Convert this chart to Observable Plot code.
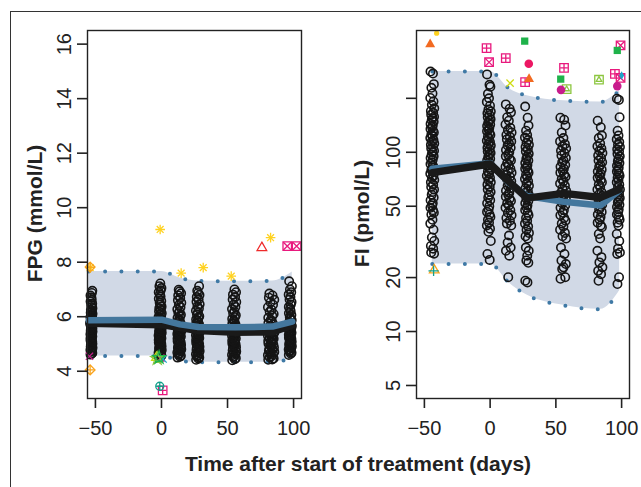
<!DOCTYPE html>
<html><head><meta charset="utf-8">
<script src="https://cdn.jsdelivr.net/npm/d3@7"></script>
<script src="https://cdn.jsdelivr.net/npm/@observablehq/plot@0.6"></script>
<style>
html,body{margin:0;padding:0;background:#fff;overflow:hidden}
#fig{position:relative;width:641px;height:487px;overflow:hidden;font-family:"Liberation Sans",Arial,Helvetica,sans-serif}
#frame{position:absolute;left:10px;top:11px;width:700px;height:600px;border-left:1.5px solid #333;border-top:1.5px solid #333}
#left,#right{position:absolute;top:0}
#left{left:0}#right{left:320px}
#titles{position:absolute;left:0;top:0;pointer-events:none}
</style></head><body>
<div id="fig"><div id="frame"></div><div id="left"></div><div id="right"></div>
<svg id="titles" width="641" height="487"></svg></div>
<script>
// ---------- tick labels ----------
const xTicks = [-50, 0, 50, 100];
const fpgTicks = [4, 6, 8, 10, 12, 14, 16];
const fiTicks = [5, 10, 20, 50, 100, 200];
const fiTickLabels = ["5", "10", "20", "50", "100", ""];

// ---------- FPG (mmol/L) individual values per visit ----------
const fpgDays = [-53, -1, 13.5, 27.5, 55, 83, 97.5];
const fpgV1 = [4.61,4.65,4.67,4.72,4.74,4.78,4.8,4.84,4.86,4.9,4.94,4.96,5.01,5.03,5.07,5.09,5.13,5.15,5.19,5.21,5.25,5.27,5.31,5.33,5.36,5.4,5.42,5.46,5.48,5.52,5.54,5.58,5.6,5.64,5.66,5.7,5.74,5.76,5.81,5.83,5.88,5.9,5.95,5.98,6.03,6.06,6.11,6.15,6.21,6.25,6.31,6.36,6.43,6.48,6.56,6.62,6.71,6.78,6.87,6.95];
const fpgV2 = [4.5,4.54,4.57,4.61,4.64,4.68,4.71,4.75,4.78,4.82,4.85,4.88,4.92,4.95,4.98,5.02,5.05,5.08,5.11,5.15,5.18,5.21,5.24,5.28,5.31,5.34,5.37,5.41,5.44,5.47,5.5,5.54,5.57,5.6,5.64,5.67,5.71,5.74,5.78,5.82,5.86,5.9,5.94,5.99,6.03,6.08,6.13,6.19,6.25,6.31,6.37,6.44,6.51,6.58,6.66,6.74,6.82,6.9,6.97,7.05,7.12,7.22];
const fpgV3 = [4.5,4.53,4.57,4.61,4.65,4.69,4.73,4.77,4.81,4.85,4.88,4.92,4.96,4.99,5.03,5.06,5.1,5.13,5.17,5.2,5.24,5.27,5.3,5.34,5.37,5.41,5.44,5.48,5.51,5.55,5.59,5.63,5.67,5.71,5.75,5.8,5.85,5.9,5.95,6.01,6.07,6.13,6.2,6.27,6.35,6.43,6.51,6.6,6.69,6.78,6.86,6.93,6.99];
const fpgV4 = [4.42,4.46,4.5,4.54,4.58,4.62,4.66,4.7,4.74,4.78,4.82,4.86,4.9,4.93,4.97,5.01,5.04,5.08,5.11,5.15,5.18,5.22,5.25,5.29,5.32,5.36,5.39,5.43,5.46,5.5,5.54,5.58,5.62,5.66,5.71,5.75,5.8,5.85,5.9,5.96,6.02,6.08,6.15,6.22,6.3,6.38,6.46,6.55,6.63,6.72,6.8,6.87,6.95,7.12];
const fpgV5 = [4.4,4.44,4.48,4.52,4.56,4.6,4.64,4.68,4.72,4.76,4.8,4.84,4.88,4.91,4.95,4.99,5.02,5.06,5.09,5.13,5.16,5.2,5.23,5.27,5.3,5.34,5.37,5.41,5.45,5.49,5.53,5.57,5.61,5.65,5.7,5.75,5.8,5.86,5.92,5.98,6.05,6.12,6.2,6.28,6.36,6.45,6.54,6.63,6.72,6.81,6.9,7.0];
const fpgV6 = [4.42,4.43,4.47,4.51,4.55,4.59,4.63,4.67,4.71,4.75,4.79,4.83,4.87,4.91,4.94,4.98,5.02,5.05,5.09,5.12,5.16,5.19,5.23,5.26,5.3,5.33,5.37,5.41,5.45,5.49,5.53,5.57,5.62,5.67,5.72,5.77,5.83,5.89,5.96,6.03,6.1,6.18,6.26,6.35,6.44,6.53,6.62,6.7,6.78,6.85];
const fpgV7 = [4.6,4.64,4.68,4.72,4.76,4.8,4.84,4.88,4.92,4.96,5.0,5.04,5.08,5.12,5.15,5.19,5.23,5.26,5.3,5.34,5.37,5.41,5.45,5.49,5.53,5.57,5.61,5.66,5.71,5.76,5.81,5.87,5.93,5.99,6.06,6.13,6.2,6.28,6.36,6.45,6.54,6.63,6.72,6.81,6.9,7.0,7.12,7.3];

// FPG prediction band and median lines
const fpgBandDays = [-55, 0, 14, 28, 56, 84, 99];
const fpgBandLo = [4.56, 4.56, 4.38, 4.33, 4.33, 4.33, 4.5];
const fpgBandHi = [7.66, 7.66, 7.42, 7.31, 7.3, 7.31, 7.64];
const fpgBlack = [5.76, 5.71, 5.6, 5.49, 5.43, 5.44, 5.7];
const fpgBlue = [5.87, 5.89, 5.72, 5.62, 5.61, 5.64, 5.82];

// ---------- FI (pmol/L) individual values per visit ----------
const fiDays = [-44, -1, 14, 28, 55.5, 83.5, 97.5];
const fiV1 = [282,275,240,229,213,201,192,184,176,170,166,162,158,155,151,148,144,141,138,135,132,129,126,123,120,117,115,112,110,107,105,102,100,97,95,93,91,88,86,84,82,80,78,76,74,72,70,68,66,64,62,60,58,56,54,52,50.5,49,47.5,46,45,42,40,37,33.5,32,30,29,27.6,27.2];
const fiV2 = [272,238,232,212,200,191,182,173,169,165,161,157,153,150,146,143,140,137,134,131,128,125,122,119,116,114,111,109,106,104,101,99,97,94,92,90,88,86,84,82,80,78,76,74,72,70,68,66,64,62,60,58,56,54,52,50,48,46.5,45,43.5,42,40.5,39,37.5,36,32,27.1,25.1];
const fiV3 = [185,175,167,157,150,143,137,133,129,125,122,118,115,112,109,106,103,100,97,95,92,90,87,85,83,81,79,77,75,73,71,69,67,65,63,61,59.5,58,56.5,55,53.5,52,50.5,49,47.5,46,44.5,43,41.5,40,39,34.3,31.4,29.4,28.2,26.5,20.1];
const fiV4 = [180,156,141,132,125,121,117,113,110,107,104,101,98,95,92,90,87,85,83,81,79,77,75,73,71,69,67,65,63,61,59.5,58,56.5,55,53.5,52,50.5,49,47.5,46,44.5,43,41.5,40,38.5,37,35.5,34,33,29.4,28.2,26.5,24.9,24.2,19.2,18.8];
const fiV5 = [156,152,141,129,120,115,111,108,105,102,99,96,93,90,88,85,83,81,79,77,75,73,71,69,67,65,63,61,59.5,58,56.5,55,53.5,52,50.5,49,47.5,46,44.5,43,41.5,40,38.5,37,35.5,34,33,29.4,27.1,24.9,23.8,22.8,22.3,20.1,19.7];
const fiV6 = [150,138,124,120,112,108,105,102,99,96,93,90,88,85,83,80,78,76,74,72,70,68,66,64,62,60,58.5,57,55.5,54,52.5,51,49.5,48,46.5,45,43.5,42,40.5,39,38.2,35,33,28.2,26,24.3,22.8,21.8,20.9,19.2];
const fiV7 = [199,196,157,132,124,118,114,110,107,104,101,98,95,92,89,87,84,82,80,78,76,74,72,70,68,66,64,62,60,58.5,57,55.5,54,52.5,51,49.5,48,46.5,45,43.5,42,40.5,39,35,32,29,27.6,27.1,20.1,18.4];

// FI prediction band and median lines
const fiBandDays = [-44, 0, 14, 28, 56, 84, 98.5];
const fiBandLo = [23.8, 23.8, 18.8, 16.0, 14.0, 13.3, 16.9];
const fiBandHi = [282, 282, 228, 207, 194, 191, 222];
const fiLineDays = [-44, 0, 14, 28, 56, 84, 98];
const fiBlack = [77, 86, 69, 55.5, 59, 56, 62];
const fiBlue = [81, 87, 68, 57, 53, 50.5, 61];

// ---------- outlying observations: [day, value, symbol kind, colour] ----------
const fpgOutliers = [
  [-1, 9.2, "ast", "#ffd21f"], [14.9, 7.6, "ast", "#ffd21f"], [31.6, 7.8, "ast", "#ffd21f"],
  [52.8, 7.49, "ast", "#ffd21f"], [82.6, 8.9, "ast", "#ffd21f"], [76, 8.53, "tri", "#ee2a2a"],
  [95.2, 8.59, "boxx", "#e8197d"], [102.3, 8.59, "boxx", "#e8197d"],
  [-54, 7.82, "diamplus", "#f9a31b"], [-54, 7.8, "ast", "#ffd21f"], [-54, 4.05, "diamplus", "#f9a31b"],
  [-54.5, 4.55, "times", "#c81c8c"], [-3.8, 4.5, "tri", "#cfdc10"], [-3.2, 4.46, "star", "#8cc63f"],
  [-1.8, 4.5, "star", "#1fb24a"], [-0.5, 4.48, "times", "#c81c8c"], [1.2, 4.45, "times", "#1ea6c8"],
  [-1.3, 3.45, "circplus", "#12a08a"], [0.9, 3.3, "boxplus", "#e8197d"]
];
const fiOutliers = [
  [-40.7, 462, "dots", "#ffd21f"], [-45.6, 400, "trif", "#f26a21"], [-2.7, 381, "boxplus", "#e8197d"],
  [-0.8, 318, "boxx", "#e8197d"], [11.9, 335, "boxplus", "#e8197d"], [26.3, 417, "sqf", "#1fb24a"],
  [29.4, 312, "dotf", "#ec1763"], [15.2, 243, "times", "#cfdc10"], [26.6, 246, "boxplus", "#e8197d"],
  [29.6, 256, "trif", "#f26a21"], [56.2, 296, "boxplus", "#e8197d"], [53.7, 256, "sqf", "#1fb24a"],
  [53.9, 223, "dotf", "#c81c8c"], [58.2, 225, "boxtri", "#8cc63f"], [82.8, 254, "boxtri", "#8cc63f"],
  [99.2, 395, "boxx", "#e8197d"], [96.7, 370, "sqf", "#1fb24a"], [94.9, 274, "boxplus", "#e8197d"],
  [99.2, 260, "boxx", "#e8197d"], [100, 268, "diaf", "#1ea6c8"], [96.7, 234, "dotf", "#c81c8c"],
  [-43, 21.8, "plus", "#12a08a"], [-42.5, 22, "tri", "#f9a31b"]
];

// ---------- styling (not data) ----------
const jit = [-0.9, 0.35, 0.8, -0.45, 0.1, -1, 0.6, -0.2, 1, -0.7, 0.45, -0.55, 0.9, 0.15, -0.3, 0.7, -0.85, 0.25, -0.1];
const fpgSpread = [0.8, 1.2, 1.5, 1.4, 1.6, 2.4, 1.2];
const fiSpread = [1.5, 1.5, 2.3, 1.5, 2.3, 1.9, 1.2];
const FONT = "'Liberation Sans', Arial, Helvetica, sans-serif";
const bandFill = "#d1d9e6", dotCol = "#3f79a5", blueCol = "#44779d", blackCol = "#1a1a1a";
const kindParts = {
  ast: [["plus", 3.2, "s"], ["times", 3.2, "s"]],
  boxx: [["square2", 5.4, "s"], ["times", 3.6, "s"]],
  boxplus: [["square2", 5.4, "s"], ["plus", 2.6, "s"]],
  circplus: [["circle", 4, "s"], ["plus", 2.5, "s"]],
  diamplus: [["diamond2", 4.4, "s"], ["plus", 3, "s"]],
  boxtri: [["square2", 5.4, "s"], ["triangle2", 2.6, "s"]],
  tri: [["triangle2", 4.6, "s"]],
  trif: [["triangle", 3.7, "f"]],
  sqf: [["square", 4.1, "f"]],
  dotf: [["circle", 4.3, "f"]],
  dots: [["circle", 2.6, "f"]],
  diaf: [["diamond", 2.6, "f"]],
  times: [["times", 3.4, "s"]],
  plus: [["plus", 3.4, "s"]],
  star: [["star", 4, "s"]]
};

function points(days, visits, spread) {
  return visits.flatMap((vals, k) => vals.map((v, i) => ({x: days[k] + jit[i % jit.length] * spread[k], y: v})));
}
function outlierMarks(rows) {
  const marks = [];
  for (const kind of Object.keys(kindParts)) {
    const sub = rows.filter(r => r[2] === kind);
    if (!sub.length) continue;
    for (const [sym, r, mode] of kindParts[kind]) {
      marks.push(Plot.dot(sub, {
        x: d => d[0], y: d => d[1], symbol: sym, r,
        stroke: mode === "s" ? d => d[3] : "none",
        fill: mode === "f" ? d => d[3] : "none",
        strokeWidth: 1.3
      }));
    }
  }
  return marks;
}
const fmtX = d => d < 0 ? "\u2212" + Math.abs(d) : String(d);

function panel({width, marginLeft, marginRight, yOpts, yTicks, yLabels, bandDays, lo, hi, lineDays, black, blue, pts, outliers, blueOnTop}) {
  const band = bandDays.map((d, i) => ({d, lo: lo[i], hi: hi[i]}));
  const lineB = lineDays.map((d, i) => ({d, v: black[i]}));
  const lineU = lineDays.map((d, i) => ({d, v: blue[i]}));
  const blackMark = Plot.line(lineB, {x: "d", y: "v", stroke: blackCol, strokeWidth: 7.5, strokeLinecap: "round", strokeLinejoin: "round"});
  const blueMark = Plot.line(lineU, {x: "d", y: "v", stroke: blueCol, strokeWidth: 6.5, strokeLinecap: "round", strokeLinejoin: "round"});
  return Plot.plot({
    width, height: 440, marginLeft, marginRight, marginTop: 30, marginBottom: 42,
    style: {fontFamily: FONT, background: "transparent", overflow: "visible"},
    x: {domain: [-56, 106]},
    y: yOpts,
    color: {type: "identity"},
    marks: [
      Plot.areaY(band, {x: "d", y1: "lo", y2: "hi", fill: bandFill, curve: "monotone-x"}),
      Plot.line(band, {x: "d", y: "hi", stroke: dotCol, strokeWidth: 4, strokeDasharray: "0 16.3", strokeLinecap: "round", curve: "monotone-x"}),
      Plot.line(band, {x: "d", y: "lo", stroke: dotCol, strokeWidth: 4, strokeDasharray: "0 16.3", strokeLinecap: "round", curve: "monotone-x"}),
      Plot.dot(pts, {x: "x", y: "y", r: 4.2, stroke: "#151515", strokeWidth: 1.6, fill: "none"}),
      ...(blueOnTop ? [blackMark, blueMark] : [blueMark, blackMark]),
      ...outlierMarks(outliers),
      Plot.frame({stroke: "#222", strokeWidth: 1.4}),
      Plot.axisX({ticks: xTicks, tickSize: 10, tickPadding: 12, fontSize: 20, tickFormat: fmtX, label: null, stroke: "#222", strokeWidth: 1.6, color: "#222"}),
      Plot.axisY({ticks: yTicks, tickSize: 10, tickFormat: () => "", label: null, stroke: "#222", strokeWidth: 1.6}),
      Plot.text(yTicks, {y: d => d, text: (d, i) => yLabels[i], frameAnchor: "left", rotate: -90, dx: -17, textAnchor: "middle", lineAnchor: "bottom", fontSize: 20, fill: "#222"})
    ]
  });
}

const fpgPts = points(fpgDays, [fpgV1, fpgV2, fpgV3, fpgV4, fpgV5, fpgV6, fpgV7], fpgSpread);
const fiPts = points(fiDays, [fiV1, fiV2, fiV3, fiV4, fiV5, fiV6, fiV7], fiSpread);

document.getElementById("left").append(panel({
  width: 320, marginLeft: 87, marginRight: 19,
  yOpts: {domain: [3.0, 16.5]}, yTicks: fpgTicks, yLabels: fpgTicks.map(String),
  bandDays: fpgBandDays, lo: fpgBandLo, hi: fpgBandHi,
  lineDays: fpgBandDays, black: fpgBlack, blue: fpgBlue,
  pts: fpgPts, outliers: fpgOutliers, blueOnTop: true
}));
document.getElementById("right").append(panel({
  width: 321, marginLeft: 96, marginRight: 12,
  yOpts: {type: "log", domain: [4.23, 478]}, yTicks: fiTicks, yLabels: fiTickLabels,
  bandDays: fiBandDays, lo: fiBandLo, hi: fiBandHi,
  lineDays: fiLineDays, black: fiBlack, blue: fiBlue,
  pts: fiPts, outliers: fiOutliers, blueOnTop: false
}));

// axis titles
const t = d3.select("#titles").attr("font-family", FONT).attr("font-weight", "bold").attr("font-size", 21).attr("fill", "#222");
t.append("text").attr("transform", "translate(41.7,213.5) rotate(-90)").attr("text-anchor", "middle").text("FPG (mmol/L)");
t.append("text").attr("transform", "translate(369.3,213.5) rotate(-90)").attr("text-anchor", "middle").text("FI (pmol/L)");
t.append("text").attr("x", 358).attr("y", 471).attr("text-anchor", "middle").text("Time after start of treatment (days)");
</script></body></html>
